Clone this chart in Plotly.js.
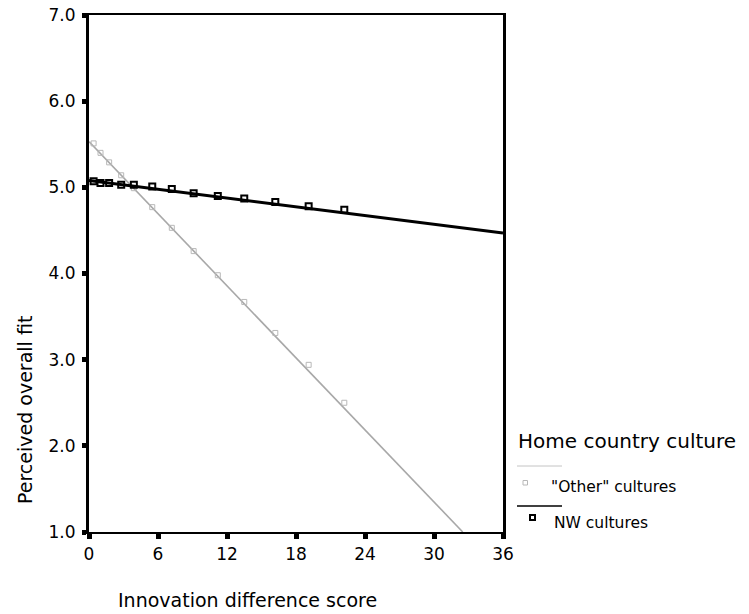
<!DOCTYPE html>
<html>
<head>
<meta charset="utf-8">
<script src="https://cdn.plot.ly/plotly-3.0.1.min.js"></script>
<style>
  html, body { margin: 0; padding: 0; background: #ffffff; }
  #chart { width: 749px; height: 614px; }
</style>
</head>
<body>
<div id="chart"></div>
<script>
// Innovation difference score (group means) for each culture group
const diffScores = [0.4, 1.0, 1.75, 2.8, 3.9, 5.5, 7.2, 9.1, 11.2, 13.5, 16.2, 19.1, 22.2];

// Perceived overall fit at each score
const otherFit = [5.51, 5.40, 5.29, 5.14, 4.99, 4.77, 4.53, 4.26, 3.98, 3.67, 3.31, 2.94, 2.50];
const nwFit    = [5.07, 5.05, 5.05, 5.03, 5.03, 5.01, 4.98, 4.93, 4.90, 4.87, 4.83, 4.78, 4.74];

// Linear fit lines (end points)
const otherLineX = [0, 32.5];
const otherLineY = [5.53, 1.0];
const nwLineX = [0, 36];
const nwLineY = [5.08, 4.47];

// Axis ticks
const xTicks = [0, 6, 12, 18, 24, 30, 36];
const yTicks = [1, 2, 3, 4, 5, 6, 7];
const yTickText = ['1.0', '2.0', '3.0', '4.0', '5.0', '6.0', '7.0'];

// Legend text
const legendTitle = 'Home country culture';
const groupNames = ['"Other" cultures', 'NW cultures'];

const FONT = 'DejaVu Sans, sans-serif';
const GRAY = '#a8a8a8';

const traces = [
  { x: otherLineX, y: otherLineY, mode: 'lines', type: 'scatter',
    line: { color: GRAY, width: 1.6 }, hoverinfo: 'skip' },
  { x: diffScores, y: otherFit, mode: 'markers', type: 'scatter',
    marker: { symbol: 'square-open', size: 5, color: '#b8b8b8', line: { width: 1, color: '#b8b8b8' } } },
  { x: nwLineX, y: nwLineY, mode: 'lines', type: 'scatter',
    line: { color: '#000000', width: 3 }, hoverinfo: 'skip' },
  { x: diffScores, y: nwFit, mode: 'markers', type: 'scatter',
    marker: { symbol: 'square-open', size: 6, color: '#000000', line: { width: 2, color: '#000000' } } }
];

// plot area in pixels: x 89..503, y 15..532
const L = 89, R = 503, T = 15, B = 532;
const px = v => (v - L) / (R - L);
const py = v => (B - v) / (B - T);

const annotations = [
  { text: 'Perceived overall fit', xref: 'paper', yref: 'paper', x: px(25), y: py(410),
    textangle: -90, showarrow: false, font: { family: FONT, size: 19, color: '#000' },
    xanchor: 'center', yanchor: 'middle' },
  { text: 'Innovation difference score', xref: 'paper', yref: 'paper', x: px(247), y: py(600),
    showarrow: false, font: { family: FONT, size: 19, color: '#000' },
    xanchor: 'center', yanchor: 'middle' },
  { text: legendTitle, xref: 'paper', yref: 'paper', x: px(516), y: py(441),
    showarrow: false, font: { family: FONT, size: 20, color: '#000' },
    xanchor: 'left', yanchor: 'middle' },
  { text: groupNames[0], xref: 'paper', yref: 'paper', x: px(549), y: py(487),
    showarrow: false, font: { family: FONT, size: 15.5, color: '#000' },
    xanchor: 'left', yanchor: 'middle' },
  { text: groupNames[1], xref: 'paper', yref: 'paper', x: px(552), y: py(523),
    showarrow: false, font: { family: FONT, size: 15.5, color: '#000' },
    xanchor: 'left', yanchor: 'middle' }
];

// legend keys: line sample above each group's marker sample
const shapes = [
  { type: 'line', xref: 'paper', yref: 'paper', x0: px(517), x1: px(562), y0: py(466), y1: py(466),
    line: { color: '#c4c4c4', width: 1 } },
  { type: 'rect', xref: 'paper', yref: 'paper', x0: px(523), x1: px(527.5), y0: py(480.5), y1: py(485),
    line: { color: '#b8b8b8', width: 1 }, fillcolor: 'rgba(0,0,0,0)' },
  { type: 'line', xref: 'paper', yref: 'paper', x0: px(517), x1: px(562), y0: py(506), y1: py(506),
    line: { color: '#000', width: 1.5 } },
  { type: 'rect', xref: 'paper', yref: 'paper', x0: px(530), x1: px(535), y0: py(515), y1: py(520),
    line: { color: '#000', width: 2 }, fillcolor: 'rgba(0,0,0,0)' }
];

const layout = {
  width: 749, height: 614,
  margin: { l: L, r: 749 - R, t: T, b: 614 - B, pad: 0 },
  paper_bgcolor: '#ffffff', plot_bgcolor: '#ffffff',
  showlegend: false,
  font: { family: FONT, color: '#000' },
  xaxis: {
    range: [0, 36], tickvals: xTicks, ticktext: xTicks.map(String),
    showgrid: false, zeroline: false,
    showline: true, linecolor: '#000', linewidth: 2, mirror: true,
    ticks: 'outside', ticklen: 5, tickwidth: 5, tickcolor: '#000',
    tickfont: { family: FONT, size: 17, color: '#000' }, ticklabelstandoff: 1
  },
  yaxis: {
    range: [1, 7], tickvals: yTicks, ticktext: yTickText,
    showgrid: false, zeroline: false,
    showline: true, linecolor: '#000', linewidth: 3, mirror: true,
    ticks: 'outside', ticklen: 4, tickwidth: 5, tickcolor: '#000',
    tickfont: { family: FONT, size: 17, color: '#000' }, ticklabelstandoff: 3
  },
  annotations: annotations,
  shapes: shapes
};

Plotly.newPlot('chart', traces, layout, { displayModeBar: false, staticPlot: true });
</script>
</body>
</html>
